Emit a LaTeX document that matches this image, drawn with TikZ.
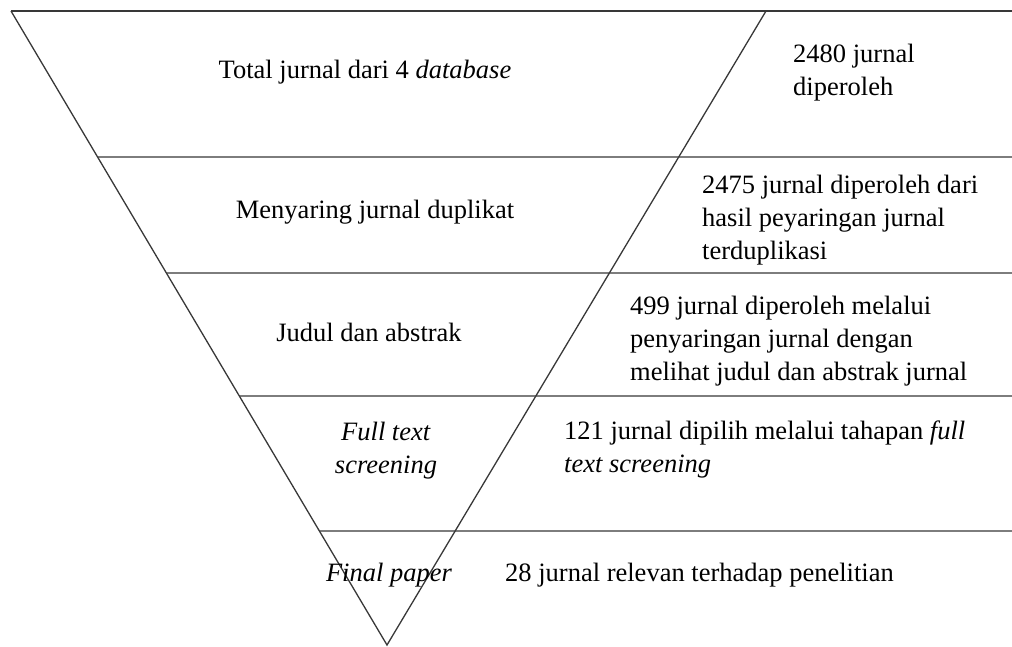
\documentclass[tikz,border=0pt]{standalone}
\usepackage{fontspec}
\setmainfont{Liberation Serif}
\usetikzlibrary{calc}

\begin{document}
\begin{tikzpicture}[x=1pt,y=-1pt,
    rule/.style={draw=black!78,line width=1.3pt},
    txt/.style={inner sep=0pt,font=\fontsize{26.5}{33}\selectfont},
    stage/.style={txt,anchor=base,align=center},
    result/.style={txt,anchor=base west,align=left}]
  \useasboundingbox (0,0) rectangle (1012,646);
  \coordinate (tl) at (11,11);
  \coordinate (tr) at (766,11);
  \coordinate (apex) at (387,645);
  \coordinate (edge) at (1012,11);
  \draw[rule] (tl) -- (edge);
  \draw[rule] (tl) -- (apex) -- (tr);
  \foreach \y/\n in {157/a,273/b,396/c,531/d} {
    \coordinate (L\n) at ($(tl)!{(\y-11)/634}!(apex)$);
    \coordinate (R\n) at (1012,\y);
    \draw[rule] (L\n) -- (R\n);
  }
  % multi-line nodes sit on their last line
  \node[stage] (total) at (365,78) {Total jurnal dari 4 \textit{database}};
  \node[result] (n2480) at (793,95) {2480 jurnal\\diperoleh};
  \node[stage] (dupl) at (375,218) {Menyaring jurnal duplikat};
  \node[result] (n2475) at (702,259) {2475 jurnal diperoleh dari\\hasil peyaringan jurnal\\terduplikasi};
  \node[stage] (judul) at (369,341) {Judul dan abstrak};
  \node[result] (n499) at (630,380) {499 jurnal diperoleh melalui\\penyaringan jurnal dengan\\melihat judul dan abstrak jurnal};
  \node[stage] (fulltext) at (386,473) {\textit{Full text}\\\textit{screening}};
  \node[result] (n121) at (564,472) {121 jurnal dipilih melalui tahapan \textit{full}\\\textit{text screening}};
  \node[stage] (final) at (389,581) {\textit{Final paper}};
  \node[result] (n28) at (505,581) {28 jurnal relevan terhadap penelitian};
\end{tikzpicture}
\end{document}
